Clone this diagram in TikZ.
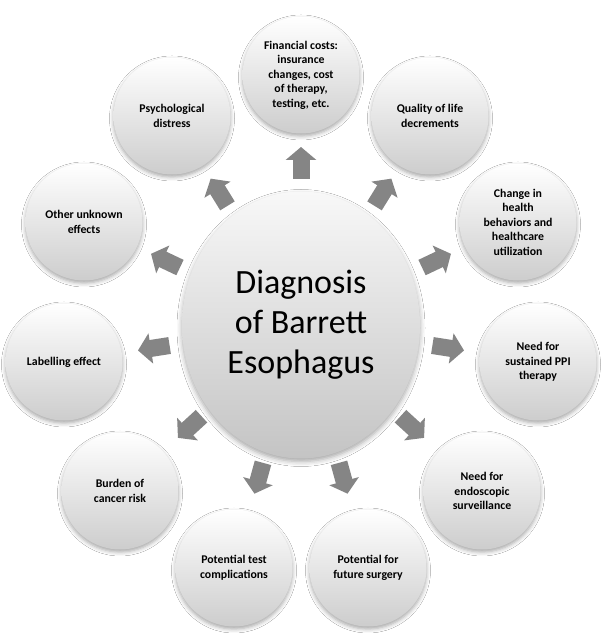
\documentclass[tikz,border=0pt]{standalone}
\usepackage{fontspec}
\setmainfont{Carlito}
\usetikzlibrary{calc,arrows.meta,shapes.geometric,shadows.blur}
\definecolor{arrowgray}{HTML}{858585}
\definecolor{bubblebot}{HTML}{CDCDCD}
\definecolor{hubtop}{HTML}{F8F8F8}
\definecolor{hubbot}{HTML}{C4C4C4}
\begin{document}
\begin{tikzpicture}[x=1pt,y=1pt,
  bubble/.style={circle, minimum size=117pt, inner sep=0pt,
    top color=white, bottom color=bubblebot,
    blur shadow={shadow xshift=0pt, shadow yshift=-2.5pt, shadow blur radius=4pt, shadow opacity=35},
    font=\bfseries\fontsize{11.8}{14.5}\selectfont, align=center, text=black},
  hub/.style={ellipse, minimum width=238pt, minimum height=267pt, inner sep=0pt,
    top color=hubtop, bottom color=hubbot,
    blur shadow={shadow xshift=0pt, shadow yshift=-3pt, shadow blur radius=5pt, shadow opacity=35},
    font=\fontsize{34}{40}\selectfont, align=center, text=black},
  blkarrow/.style={draw=arrowgray, line width=17pt, line cap=butt,
    -{Triangle[width=30pt,length=13pt]}}
]
\fill[white] (0,0) rectangle (602,635);
\useasboundingbox (0,0) rectangle (602,635);

\coordinate (C) at (301,310);
\coordinate (pfin) at (301,560);
\coordinate (ppsy) at (172,519);
\coordinate (pqua) at (430,519);
\coordinate (poth) at (84,413);
\coordinate (pcha) at (518,413);
\coordinate (plab) at (64,273);
\coordinate (pppi) at (538,273);
\coordinate (pbur) at (120,144);
\coordinate (pend) at (482,144);
\coordinate (ptes) at (234,67);
\coordinate (pfut) at (368,67);

% arrows
\draw[blkarrow] ($(C)!146pt!(pfin)$) -- ($(C)!178pt!(pfin)$);
\draw[blkarrow] ($(C)!140pt!(ppsy)$) -- ($(C)!172pt!(ppsy)$);
\draw[blkarrow] ($(C)!140pt!(pqua)$) -- ($(C)!172pt!(pqua)$);
\draw[blkarrow] ($(C)!134pt!(poth)$) -- ($(C)!166pt!(poth)$);
\draw[blkarrow] ($(C)!134pt!(pcha)$) -- ($(C)!166pt!(pcha)$);
\draw[blkarrow] ($(C)!133pt!(plab)$) -- ($(C)!165pt!(plab)$);
\draw[blkarrow] ($(C)!133pt!(pppi)$) -- ($(C)!165pt!(pppi)$);
\draw[blkarrow] ($(C)!135pt!(pbur)$) -- ($(C)!167pt!(pbur)$);
\draw[blkarrow] ($(C)!135pt!(pend)$) -- ($(C)!167pt!(pend)$);
\draw[blkarrow] ($(C)!143pt!(ptes)$) -- ($(C)!175pt!(ptes)$);
\draw[blkarrow] ($(C)!143pt!(pfut)$) -- ($(C)!175pt!(pfut)$);

% hub
\node[hub] (hub) at (C) {Diagnosis\\of Barrett\\Esophagus};

% bubbles
\node[bubble] (fin) at (pfin) {Financial costs:\\insurance\\changes, cost\\of therapy,\\testing, etc.};
\node[bubble] (psy) at (ppsy) {Psychological\\distress};
\node[bubble] (qua) at (pqua) {Quality of life\\decrements};
\node[bubble] (oth) at (poth) {Other unknown\\effects};
\node[bubble] (cha) at (pcha) {Change in\\health\\behaviors and\\healthcare\\utilization};
\node[bubble] (lab) at (plab) {Labelling effect};
\node[bubble] (ppi) at (pppi) {Need for\\sustained PPI\\therapy};
\node[bubble] (bur) at (pbur) {Burden of\\cancer risk};
\node[bubble] (end) at (pend) {Need for\\endoscopic\\surveillance};
\node[bubble] (tes) at (ptes) {Potential test\\complications};
\node[bubble] (fut) at (pfut) {Potential for\\future surgery};
\end{tikzpicture}
\end{document}
